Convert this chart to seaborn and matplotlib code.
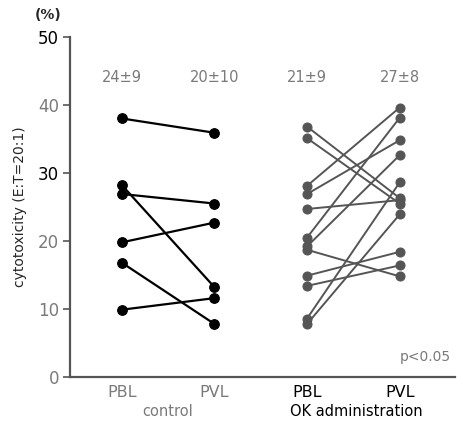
import matplotlib
matplotlib.use('Agg')
import matplotlib.pyplot as plt
import seaborn as sns
import pandas as pd

sns.set_style('white')
plt.rcParams['font.family'] = ['DejaVu Sans']

# x positions / labels
sites = ['PBL', 'PVL', 'PBL', 'PVL']
means = ['24±9', '20±10', '21±9', '27±8']

# control group (PBL -> PVL), %
control_pbl = [38.0, 28.2, 26.9, 19.8, 16.8, 9.9]
control_pvl = [35.9, 13.2, 25.5, 22.7, 7.8, 11.6]

# OK administration group (PBL -> PVL), %
ok_pbl = [36.8, 35.1, 28.1, 26.9, 24.7, 20.5, 19.2, 18.7, 14.9, 13.4, 8.6, 7.8]
ok_pvl = [26.3, 25.5, 39.6, 34.8, 26.0, 38.1, 32.6, 14.8, 18.4, 16.4, 28.6, 23.9]

rows = []
for i, (a, b) in enumerate(zip(control_pbl, control_pvl)):
    rows.append(('control', f'c{i}', 0, a))
    rows.append(('control', f'c{i}', 1, b))
for i, (a, b) in enumerate(zip(ok_pbl, ok_pvl)):
    rows.append(('OK', f'o{i}', 2, a))
    rows.append(('OK', f'o{i}', 3, b))
df = pd.DataFrame(rows, columns=['group', 'subject', 'pos', 'value'])

grey = '#7a7a7a'
fig = plt.figure(figsize=(4.64, 4.28), dpi=100)
ax = fig.add_axes([0.151, 0.119, 0.83, 0.795])

sns.lineplot(data=df[df.group == 'control'], x='pos', y='value', units='subject',
             estimator=None, color='black', marker='o', markersize=7,
             markeredgecolor='black', linewidth=1.6, ax=ax, legend=False)
sns.lineplot(data=df[df.group == 'OK'], x='pos', y='value', units='subject',
             estimator=None, color='#555555', marker='o', markersize=6.5,
             markeredgecolor='#555555', linewidth=1.4, ax=ax, legend=False)

ax.set_xlim(-0.56, 3.6)
ax.set_ylim(0, 50)
ax.set_yticks([0, 10, 20, 30, 40, 50])
ax.set_yticklabels(['0', '10', '20', '30', '40', '50'], fontsize=12)
for lbl, c in zip(ax.get_yticklabels(), [grey, grey, grey, 'black', grey, 'black']):
    lbl.set_color(c)
ax.set_xticks([0, 1, 2, 3])
ax.set_xticklabels(sites, fontsize=11.5)
for lbl, c in zip(ax.get_xticklabels(), [grey, grey, 'black', 'black']):
    lbl.set_color(c)
ax.tick_params(axis='y', length=5, width=1.2, color='#555555', direction='out', pad=3, left=True)
ax.tick_params(axis='x', length=0, pad=6)
ax.set_xlabel('')
ax.set_ylabel('cytotoxicity (E:T=20:1)', fontsize=10, labelpad=8)

sns.despine(ax=ax)
for s in ['left', 'bottom']:
    ax.spines[s].set_color('#555555')
    ax.spines[s].set_linewidth(1.6)

for x, m in enumerate(means):
    ax.text(x, 44, m, ha='center', va='center', fontsize=10.5, color=grey)

ax.text(3.28, 2.9, 'p<0.05', ha='center', va='center', fontsize=10, color=grey)
fig.text(168 / 464, 1 - 412 / 428, 'control', ha='center', va='center', fontsize=10.5, color=grey)
fig.text(356 / 464, 1 - 412 / 428, 'OK administration', ha='center', va='center', fontsize=10.5, color='black')
fig.text(48 / 464, 1 - 15 / 428, '(%)', ha='center', va='center', fontsize=10, fontweight='bold')

fig.savefig('out.png', dpi=100)
